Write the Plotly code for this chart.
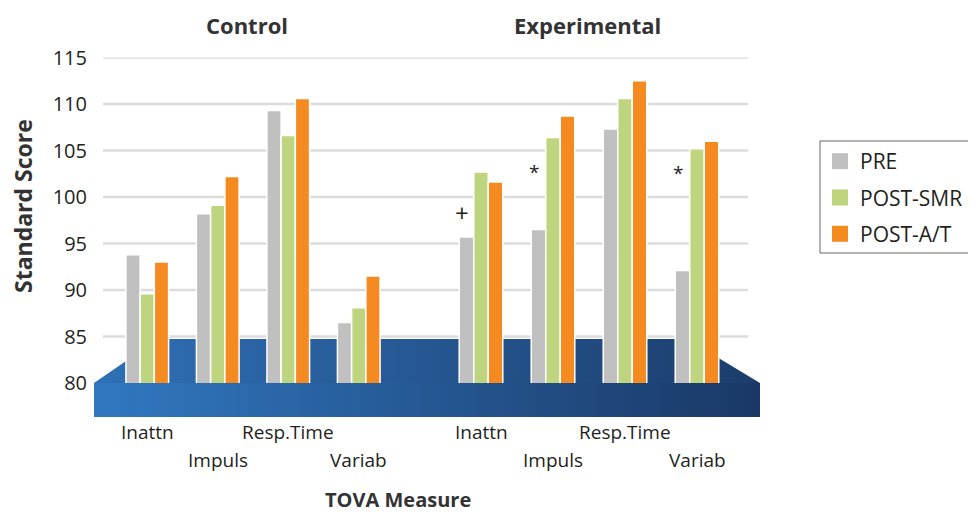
import plotly.graph_objects as go

# ---------------- data ----------------
measures = ["Inattn", "Impuls", "Resp.Time", "Variab"]
groups = ["Control", "Experimental"]
series = ["PRE", "POST-SMR", "POST-A/T"]

control_pre = [93.8, 98.2, 109.3, 86.5]
control_smr = [89.6, 99.1, 106.6, 88.1]
control_at = [93.0, 102.2, 110.6, 91.5]

exp_pre = [95.7, 96.5, 107.3, 92.1]
exp_smr = [102.7, 106.4, 110.6, 105.2]
exp_at = [101.6, 108.7, 112.5, 106.0]

y_ticks = [80, 85, 90, 95, 100, 105, 110, 115]
sig_marks = ["+", "*", "", "*"]          # significance marks over Experimental PRE bars
sig_levels = [98.3, 102.7, 0, 102.6]

# ---------------- style ----------------
OFF = 8                      # page offset of the plot div
W, H = 976 - OFF, 517 - OFF
colors = ["#c0c0c0", "#bed47e", "#f48a20"]
FONT = "Open Sans"
TXT = "#231f20"


def px(x):
    return (x - OFF) / W


def py(y):
    return 1 - (y - OFF) / H


fig = go.Figure()

# 3D-look floor (decorative) on a pixel-space base subplot
floor_top_x = [94, 158, 687, 760, 94]
floor_top_y = [383, 339, 339, 383, 383]
floor_front_x = [94, 760, 760, 94, 94]
floor_front_y = [383, 383, 417, 417, 383]
fig.add_trace(go.Scatter(
    x=floor_top_x, y=floor_top_y, mode="lines", line=dict(width=0),
    fill="toself", fillgradient=dict(type="horizontal",
                                     colorscale=[[0, "#2f70b6"], [1, "#1c3d6c"]]),
    hoverinfo="skip", showlegend=False, xaxis="x", yaxis="y"))
fig.add_trace(go.Scatter(
    x=floor_front_x, y=floor_front_y, mode="lines", line=dict(width=0),
    fill="toself", fillgradient=dict(type="horizontal",
                                     colorscale=[[0, "#3178c1"], [1, "#1a3866"]]),
    hoverinfo="skip", showlegend=False, xaxis="x", yaxis="y"))

data = {
    "Control": [control_pre, control_smr, control_at],
    "Experimental": [exp_pre, exp_smr, exp_at],
}
axes = {"Control": "x2", "Experimental": "x3"}

for gi, g in enumerate(groups):
    for si, s in enumerate(series):
        fig.add_trace(go.Bar(
            x=measures, y=data[g][si], name=s,
            marker=dict(color=colors[si], line=dict(color="white", width=1.5)),
            legendgroup=s, showlegend=False,
            xaxis=axes[g], yaxis="y2"))

# legend entries (square swatches)
for si, s in enumerate(series):
    fig.add_trace(go.Scatter(
        x=[None], y=[None], mode="markers", name=s, legendgroup=s,
        marker=dict(symbol="square", size=20, color=colors[si], line=dict(width=0)),
        xaxis="x2", yaxis="y2"))

# gridlines across both panels
shapes = []
for t in y_ticks:
    shapes.append(dict(type="line", xref="paper", yref="y2",
                       x0=px(103), x1=px(748), y0=t, y1=t,
                       line=dict(color="#dcdcdc", width=2.5), layer="below"))
# legend frame: left, top and bottom edges only (it runs past the right edge in the original)
frame_line = dict(color="#666666", width=1)
shapes.append(dict(type="line", xref="paper", yref="paper", x0=px(820), x1=px(820),
                   y0=py(253), y1=py(141), line=frame_line, layer="above"))
shapes.append(dict(type="line", xref="paper", yref="paper", x0=px(820), x1=1.0,
                   y0=py(141), y1=py(141), line=frame_line, layer="above"))
shapes.append(dict(type="line", xref="paper", yref="paper", x0=px(820), x1=1.0,
                   y0=py(253), y1=py(253), line=frame_line, layer="above"))


def ann(text, x, y, size, color=TXT, **kw):
    d = dict(text=text, x=px(x), y=py(y), xref="paper", yref="paper",
             xanchor="center", yanchor="middle", showarrow=False,
             font=dict(family=FONT, size=size, color=color))
    d.update(kw)
    return d


annotations = []
# panel titles
for g, cx in zip(groups, [247, 587]):
    annotations.append(ann(f"<b>{g}</b>", cx, 25, 22, "#333333"))
# staggered category labels on the floor front, under each group
label_rows = [432, 460]
for gi, g in enumerate(groups):
    for mi, m in enumerate(measures):
        annotations.append(dict(text=m, x=m, xref=axes[g], y=py(label_rows[mi % 2]), yref="paper",
                                xanchor="center", yanchor="middle", showarrow=False,
                                font=dict(family=FONT, size=19, color=TXT)))
# significance marks
for mi, (mk, lv) in enumerate(zip(sig_marks, sig_levels)):
    if mk:
        annotations.append(dict(text=mk, x=measures[mi], y=lv, xref="x3", yref="y2",
                                xshift=-19, showarrow=False, xanchor="center", yanchor="middle",
                                font=dict(family=FONT, size=24 if mk == "+" else 19, color=TXT)))
# axis titles
annotations.append(ann("<b>TOVA Measure</b>", 398, 515, 20, "#333333", yanchor="bottom"))
annotations.append(ann("<b>Standard Score</b>", 23, 206, 23, "#333333", textangle=-90))

noax = dict(automargin=False)
fig.update_layout(
    width=W, height=H,
    margin=dict(l=0, r=0, t=0, b=0, pad=0, autoexpand=False),
    paper_bgcolor="white", plot_bgcolor="rgba(0,0,0,0)",
    barmode="group", bargap=0.395, bargroupgap=0,
    xaxis=dict(domain=[0, 1], range=[OFF, 976], visible=False, fixedrange=True, **noax),
    yaxis=dict(domain=[0, 1], range=[517, OFF], visible=False, fixedrange=True, **noax),
    xaxis2=dict(domain=[px(112), px(394)], anchor="y2", showticklabels=False,
                showgrid=False, showline=False, zeroline=False, **noax),
    xaxis3=dict(domain=[px(445), px(733)], anchor="y2", showticklabels=False,
                showgrid=False, showline=False, zeroline=False, **noax),
    yaxis2=dict(domain=[py(383), py(57.5)], range=[80, 115], anchor="free", position=px(87),
                tickvals=y_ticks, showgrid=False, zeroline=False, showline=False, ticks="",
                tickfont=dict(family=FONT, size=20, color=TXT), **noax),
    legend=dict(x=px(820), y=py(141), xanchor="left", yanchor="top",
                bordercolor="rgba(0,0,0,0)", borderwidth=0, bgcolor="rgba(0,0,0,0)",
                itemsizing="trace",
                font=dict(family=FONT, size=21, color=TXT), tracegroupgap=6),
    shapes=shapes, annotations=annotations,
)

fig.write_html("out.html")
